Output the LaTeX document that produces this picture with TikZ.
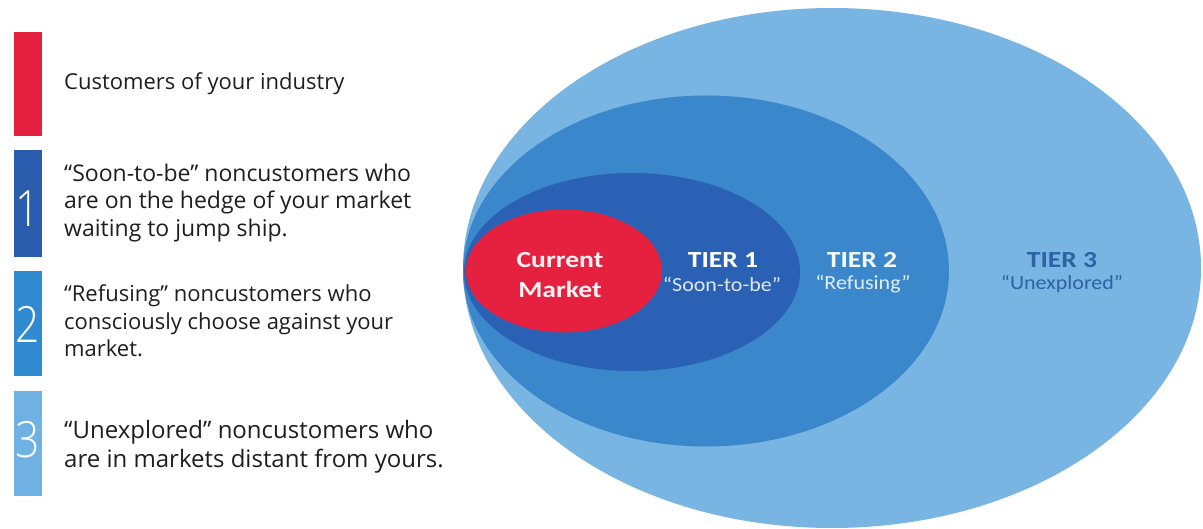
\documentclass[tikz,border=0pt]{standalone}
\usepackage{fontspec}
\setmainfont{Open Sans}
\newfontfamily\calib{Carlito}
\newfontfamily\calibwide[FakeStretch=1.2]{Carlito}
\newfontfamily\calibmid[FakeStretch=1.1]{Carlito}
\newfontfamily\digitfont[FakeStretch=0.85]{Open Sans Light}
\usetikzlibrary{shapes.geometric}
\definecolor{cred}{HTML}{E6213F}
\definecolor{tone}{HTML}{2A61B4}
\definecolor{ttwo}{HTML}{3B87CB}
\definecolor{tthree}{HTML}{78B5E2}
\definecolor{bone}{HTML}{2A5DAE}
\definecolor{btwo}{HTML}{2F8AD0}
\definecolor{bthree}{HTML}{6FB1E2}
\definecolor{txt}{HTML}{1E1E1E}
\definecolor{tthreetxt}{HTML}{2E62A3}
\begin{document}
\begin{tikzpicture}[x=1pt,y=-1pt,
  legend/.style={anchor=west, align=left, inner sep=0pt, text=txt, font=\fontsize{22}{27.5}\selectfont},
  digit/.style={text=white, font=\digitfont\fontsize{50}{50}\selectfont},
  zone/.style={ellipse, inner sep=0pt},
  tier/.style={align=center, font=\calibwide\bfseries\fontsize{23}{30}\selectfont},
  sub/.style={align=center, font=\calibmid\fontsize{20}{24}\selectfont},
]
\useasboundingbox (0,0) rectangle (1203,529);
% legend bars
\fill[cred] (14,32) rectangle (42,136);
\fill[bone] (14,150) rectangle (42,257);
\fill[btwo] (14,271) rectangle (42,376);
\fill[bthree] (14,391) rectangle (42,496);
\node[digit] (d1) at (28,209) {1};
\node[digit] (d2) at (28,324) {2};
\node[digit] (d3) at (28,440) {3};
\node[legend] (l0) at (64,84) {Customers of your industry};
\node[legend, font=\fontsize{23}{27.5}\selectfont] (l1) at (64,203) {“Soon-to-be” noncustomers who\\are on the hedge of your market\\waiting to jump ship.};
\node[legend] (l2) at (64,321) {“Refusing” noncustomers who\\consciously choose against your\\market.};
\node[legend, font=\fontsize{24}{29}\selectfont] (l3) at (64,447) {“Unexplored” noncustomers who\\are in markets distant from yours.};
% ellipses
\node[zone, fill=tthree, minimum width=738pt, minimum height=520pt] (z3) at (832,268) {};
\node[zone, fill=ttwo, minimum width=486pt, minimum height=351pt] (z2) at (706,271) {};
\node[zone, fill=tone, minimum width=336pt, minimum height=198pt] (z1) at (632,272) {};
\node[zone, fill=cred, minimum width=196pt, minimum height=123pt] (z0) at (564,271) {};
% labels
\node[tier, text=white!95!red] (t0) at (560,275) {Current\\Market};
\node[tier, text=white] (t1) at (723,260) {TIER 1};
\node[sub, text=white!85!tone] (s1) at (722,284) {“Soon-to-be”};
\node[tier, text=white!95!ttwo] (t2) at (862,260) {TIER 2};
\node[sub, text=white!85!ttwo] (s2) at (863,284) {“Refusing”};
\node[tier, text=tthreetxt] (t3) at (1062,260) {TIER 3};
\node[sub, text=tthreetxt] (s3) at (1062,284) {“Unexplored”};
\end{tikzpicture}
\end{document}
